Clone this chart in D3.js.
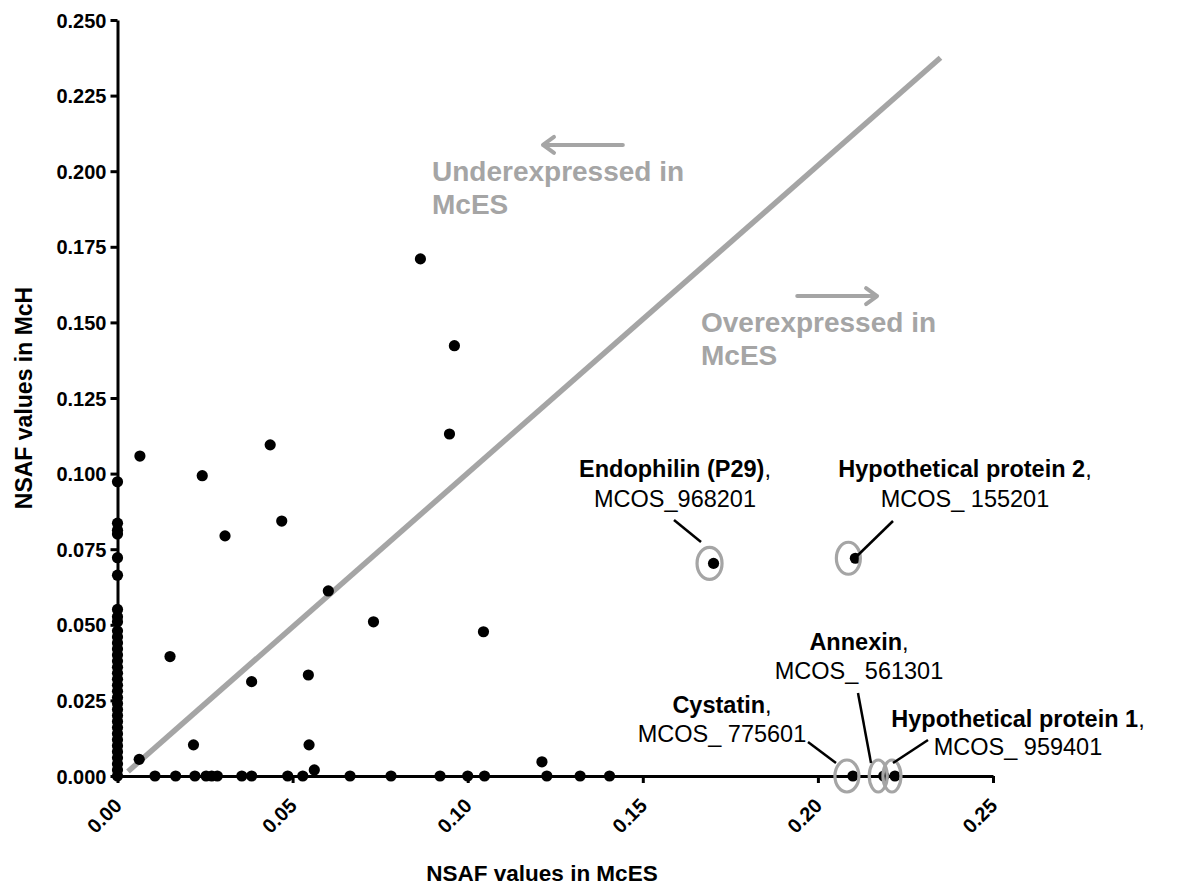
<!DOCTYPE html>
<html>
<head>
<meta charset="utf-8">
<script src="https://cdn.jsdelivr.net/npm/d3@7"></script>
<style>
  body { margin: 0; background: #fff; }
  svg text { font-family: "Liberation Sans", Arial, Helvetica, sans-serif; }
</style>
</head>
<body>
<div id="chart"></div>
<script>
// NSAF values, proteins found in McH only (x = 0)
const mchOnly = [0.0973, 0.0836, 0.0813, 0.0800, 0.0722, 0.0664, 0.0551, 0.0527, 0.0510,
  0.0480, 0.0460, 0.0440, 0.0420, 0.0400, 0.0380, 0.0360, 0.0340, 0.0320, 0.0300, 0.0280,
  0.0260, 0.0240, 0.0220, 0.0200, 0.0180, 0.0160, 0.0140, 0.0120, 0.0100, 0.0080, 0.0060,
  0.0040, 0.0020, 0.0000];

// proteins found in McES only (y = 0)
const mcesOnly = [0.0107, 0.0166, 0.0221, 0.0253, 0.0269, 0.0285, 0.0355, 0.0383, 0.0486,
  0.0529, 0.0664, 0.0781, 0.0921, 0.1000, 0.1048, 0.1226, 0.1321, 0.1405];

// proteins found in both
const bothMcES = [0.0064, 0.0150, 0.0217, 0.0062, 0.0242, 0.0436, 0.0307, 0.0469, 0.0602, 0.0948,
  0.0731, 0.1045, 0.0545, 0.0383, 0.0865, 0.0962, 0.0547, 0.0562, 0.1212];
const bothMcH = [0.1058, 0.0395, 0.0103, 0.0055, 0.0993, 0.1095, 0.0794, 0.0843, 0.0612, 0.1131,
  0.0510, 0.0477, 0.0334, 0.0312, 0.1710, 0.1423, 0.0103, 0.0020, 0.0047];

// labelled proteins
const proteinNames = ["Endophilin (P29)", "Hypothetical protein 2", "Cystatin", "Annexin", "Hypothetical protein 1"];
const proteinIds = ["MCOS_968201", "MCOS_ 155201", "MCOS_ 775601", "MCOS_ 561301", "MCOS_ 959401"];
const proteinMcES = [0.1702, 0.2107, 0.2100, 0.2188, 0.2220];
const proteinMcH = [0.0703, 0.0720, 0.0000, 0.0000, 0.0000];

const xTicks = [0.00, 0.05, 0.10, 0.15, 0.20, 0.25];
const yTicks = [0.000, 0.025, 0.050, 0.075, 0.100, 0.125, 0.150, 0.175, 0.200, 0.225, 0.250];

const width = 1179, height = 886;

const svg = d3.select("#chart").append("svg")
  .attr("width", width)
  .attr("height", height)
  .style("background", "#fff");

const x = d3.scaleLinear().domain([0, 0.25]).range([117.5, 993]);
const y = d3.scaleLinear().domain([0, 0.25]).range([776, 20]);

const grey = "#a5a5a5";

// diagonal y = x
svg.append("line")
  .attr("x1", x(0.003)).attr("y1", y(0.0015))
  .attr("x2", x(0.235)).attr("y2", y(0.2375))
  .attr("stroke", grey)
  .attr("stroke-width", 5.5);

// axes
const yAxis = d3.axisLeft(y).tickValues(yTicks).tickSize(7).tickSizeOuter(0)
  .tickFormat(d3.format(".3f"));
const xAxis = d3.axisBottom(x).tickValues(xTicks).tickSize(7).tickSizeOuter(0)
  .tickFormat(d3.format(".2f"));

const gy = svg.append("g").attr("transform", `translate(${x(0)},0)`).call(yAxis);
const gx = svg.append("g").attr("transform", `translate(0,${y(0)})`).call(xAxis);

[gx, gy].forEach(g => {
  g.select(".domain").attr("stroke", "#000").attr("stroke-width", 3);
  g.selectAll(".tick line").attr("stroke", "#000").attr("stroke-width", 3);
  g.selectAll(".tick text")
    .attr("fill", "#000")
    .style("font-size", "20px")
    .style("font-weight", "bold");
});

gy.selectAll(".tick text").attr("x", -11).attr("dy", "0.35em");
gx.selectAll(".tick text")
  .attr("x", 0).attr("y", 0).attr("dy", 0)
  .attr("transform", "translate(5,31) rotate(-45)")
  .style("text-anchor", "end");

// axis titles
svg.append("text")
  .attr("x", 542).attr("y", 881)
  .attr("text-anchor", "middle")
  .style("font-size", "22.5px").style("font-weight", "bold")
  .text("NSAF values in McES");

svg.append("text")
  .attr("transform", "translate(32,398) rotate(-90)")
  .attr("text-anchor", "middle")
  .style("font-size", "23px").style("font-weight", "bold")
  .text("NSAF values in McH");

// points
const dot = (cx, cy) => svg.append("circle")
  .attr("cx", cx).attr("cy", cy).attr("r", 5.6).attr("fill", "#000");

mchOnly.forEach(v => dot(x(0), y(v)));
mcesOnly.forEach(v => dot(x(v), y(0)));
bothMcES.forEach((v, i) => dot(x(v), y(bothMcH[i])));
proteinMcES.forEach((v, i) => dot(x(v), y(proteinMcH[i])));

// labelled proteins: circles, leader lines, labels
const labelLayout = [
  { cx: 675, y1: 477, y2: 507, lead: [674, 520, 701, 542], dx: -4, rx: 12.5 },
  { cx: 965, y1: 477, y2: 507, lead: [893, 521, 855, 558], dx: -7, rx: 12 },
  { cx: 722, y1: 713, y2: 742, lead: [808, 742, 836, 763], dx: -6, rx: 12 },
  { cx: 859, y1: 650, y2: 679, lead: [858, 693, 871, 763], dx: -5.5, rx: 9 },
  { cx: 1018, y1: 727, y2: 755, lead: [928, 740, 893, 763], dx: -3, rx: 9 }
];

proteinNames.forEach((name, i) => {
  const L = labelLayout[i];
  const px = x(proteinMcES[i]), py = y(proteinMcH[i]);

  svg.append("ellipse")
    .attr("cx", px + L.dx).attr("cy", py)
    .attr("rx", L.rx).attr("ry", 16)
    .attr("fill", "none")
    .attr("stroke", grey)
    .attr("stroke-width", 3.2);

  svg.append("line")
    .attr("x1", L.lead[0]).attr("y1", L.lead[1])
    .attr("x2", L.lead[2]).attr("y2", L.lead[3])
    .attr("stroke", "#000").attr("stroke-width", 2.5);

  const t = svg.append("text")
    .attr("x", L.cx).attr("y", L.y1)
    .attr("text-anchor", "middle")
    .style("font-size", "23.5px");
  t.append("tspan").style("font-weight", "bold").text(name);
  t.append("tspan").text(",");

  svg.append("text")
    .attr("x", L.cx).attr("y", L.y2)
    .attr("text-anchor", "middle")
    .style("font-size", "23.5px")
    .text(proteinIds[i]);
});

// under / over expressed notes with arrows
const notes = [
  { lines: ["Underexpressed in", "McES"], tx: 432, ty: 181, arrow: [0.1443, 0.1215, 0.2087] },
  { lines: ["Overexpressed in", "McES"], tx: 701, ty: 332, arrow: [0.1941, 0.2169, 0.1587] }
];

notes.forEach(n => {
  n.lines.forEach((s, k) => {
    svg.append("text")
      .attr("x", n.tx).attr("y", n.ty + k * 33)
      .attr("fill", grey)
      .style("font-size", "28px").style("font-weight", "bold")
      .text(s);
  });
  const x0 = x(n.arrow[0]), x1 = x(n.arrow[1]), ay = y(n.arrow[2]);
  const dir = x1 > x0 ? 1 : -1;
  svg.append("path")
    .attr("d", `M${x0},${ay}L${x1},${ay}M${x1 - dir * 11},${ay - 8}L${x1},${ay}L${x1 - dir * 11},${ay + 8}`)
    .attr("fill", "none")
    .attr("stroke", grey)
    .attr("stroke-width", 4)
    .attr("stroke-linejoin", "round")
    .attr("stroke-linecap", "round");
});
</script>
</body>
</html>
